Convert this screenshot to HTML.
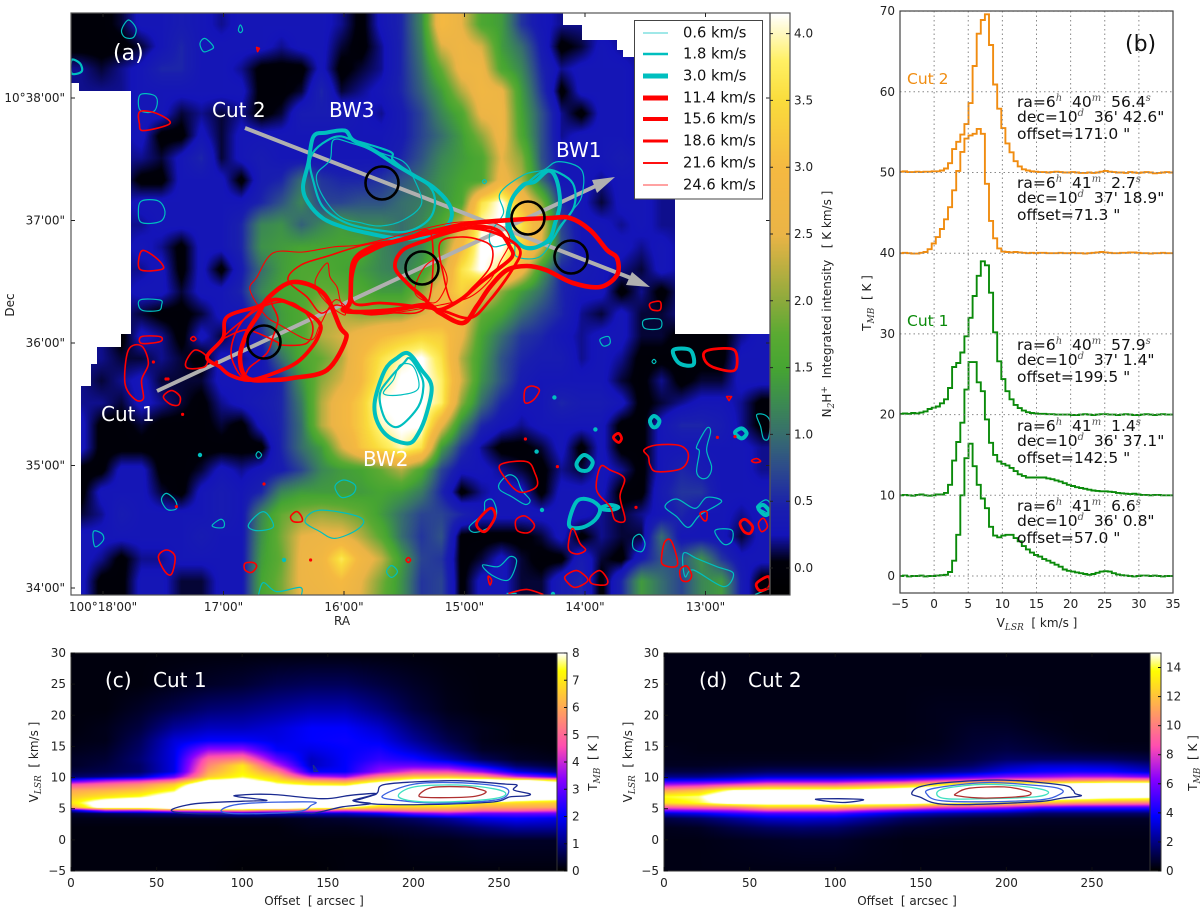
<!DOCTYPE html>
<html lang="en">
<head>
<meta charset="utf-8">
<title>N2H+ integrated intensity map, outflow contours, spectra and PV diagrams</title>
<style>
html,body{margin:0;padding:0;background:#fff;width:1200px;height:912px;overflow:hidden}
#fig{position:relative;width:1200px;height:912px;background:#fff}
canvas{position:absolute;display:block}
svg#ov{position:absolute;left:0;top:0}
text{font-family:"DejaVu Sans","Liberation Sans",sans-serif;fill:#111;white-space:pre}
.ann{fill:#fff;font-size:20px}
.info{font-size:15.5px;fill:#111}
.sup{font-family:"DejaVu Serif","Liberation Serif",serif;font-style:italic;font-size:10px;fill:#555}
.sub{font-family:"DejaVu Serif","Liberation Serif",serif;font-style:italic;font-size:9px;fill:#333}
.lab{font-size:12px;fill:#222}
</style>
</head>
<body>
<div id="fig">
<canvas id="cvA" width="699" height="582" style="left:71px;top:13px"></canvas>
<canvas id="cbA" width="20" height="582" style="left:770px;top:13px"></canvas>
<canvas id="cvC" width="486" height="218" style="left:71px;top:653px"></canvas>
<canvas id="cbC" width="10" height="218" style="left:557px;top:653px"></canvas>
<canvas id="cvD" width="486" height="218" style="left:664px;top:653px"></canvas>
<canvas id="cbD" width="11" height="218" style="left:1150px;top:653px"></canvas>
<svg id="ov" width="1200" height="912" viewBox="0 0 1200 912">
  <defs>
    <clipPath id="clipA"><rect x="71" y="13" width="699" height="582"/></clipPath>
    <clipPath id="clipB"><rect x="900" y="11" width="273" height="582"/></clipPath>
    <clipPath id="clipC"><rect x="71" y="653" width="486" height="218"/></clipPath>
    <clipPath id="clipD"><rect x="664" y="653" width="486" height="218"/></clipPath>
  </defs>
  <path fill="#fff" d="M71 83H79V91H131V334H121V347H97V364H91V386H81V595H71Z M675 198V334H770V13H563V25H582V40H617V50H623V57H675Z"/>
  <g fill="#b0b0b0" stroke="#b0b0b0">
    <line x1="157" y1="391" x2="600" y2="184" stroke-width="4"/>
    <polygon points="615,177 592,180 597,193" stroke="none"/>
    <line x1="245" y1="128" x2="636" y2="280" stroke-width="4"/>
    <polygon points="650,287 632,272 626,285" stroke="none"/>
  </g>
  <g id="gContours" clip-path="url(#clipA)"></g>
  <g id="gBeams"></g>
  <g id="gAxesA"></g>
  <g id="gSpec" clip-path="url(#clipB)"></g>
  <g id="gAxesB"></g>
  <g id="gPvC" clip-path="url(#clipC)"></g>
  <g id="gPvD" clip-path="url(#clipD)"></g>
  <g id="gAxesC"></g>
  <g id="gAxesD"></g>

  <text class="ann" x="113" y="60" style="font-size:22px">(a)</text>
  <text class="ann" x="212" y="117">Cut 2</text>
  <text class="ann" x="329" y="117">BW3</text>
  <text class="ann" x="556" y="157">BW1</text>
  <text class="ann" x="101" y="421">Cut 1</text>
  <text class="ann" x="363" y="466">BW2</text>

  <g id="gLegend">
    <rect x="634.5" y="20.5" width="128" height="178.5" fill="#fff" stroke="#444" stroke-width="1"/>
  </g>

  <text class="lab" x="342" y="625" text-anchor="middle">RA</text>
  <text class="lab" transform="translate(14,305) rotate(-90)" text-anchor="middle">Dec</text>
  <text class="lab" transform="translate(831,304) rotate(-90)" text-anchor="middle">N<tspan class="sub" dy="3">2</tspan><tspan dy="-3">H</tspan><tspan style="font-size:9px" dy="-4">+</tspan><tspan dy="4">  Integrated intensity   [ K km/s ]</tspan></text>

  <text x="1125" y="51" style="font-size:22px">(b)</text>
  <text class="info" x="907" y="84" style="fill:#f08c10">Cut 2</text>
  <text class="info" x="907" y="326" style="fill:#0a8a0a">Cut 1</text>

  <g>
    <text class="info" x="1017" y="107">ra=6<tspan class="sup" dy="-6">h</tspan><tspan dy="6">  40</tspan><tspan class="sup" dy="-6">m</tspan><tspan dy="6">  56.4</tspan><tspan class="sup" dy="-6">s</tspan></text>
    <text class="info" x="1017" y="122">dec=10<tspan class="sup" dy="-6">d</tspan><tspan dy="6">  36' 42.6"</tspan></text>
    <text class="info" x="1017" y="139">offset=171.0 "</text>
  </g>
  <g>
    <text class="info" x="1017" y="188">ra=6<tspan class="sup" dy="-6">h</tspan><tspan dy="6">  41</tspan><tspan class="sup" dy="-6">m</tspan><tspan dy="6">  2.7</tspan><tspan class="sup" dy="-6">s</tspan></text>
    <text class="info" x="1017" y="203">dec=10<tspan class="sup" dy="-6">d</tspan><tspan dy="6">  37' 18.9"</tspan></text>
    <text class="info" x="1017" y="220">offset=71.3 "</text>
  </g>
  <g>
    <text class="info" x="1017" y="350">ra=6<tspan class="sup" dy="-6">h</tspan><tspan dy="6">  40</tspan><tspan class="sup" dy="-6">m</tspan><tspan dy="6">  57.9</tspan><tspan class="sup" dy="-6">s</tspan></text>
    <text class="info" x="1017" y="365">dec=10<tspan class="sup" dy="-6">d</tspan><tspan dy="6">  37' 1.4"</tspan></text>
    <text class="info" x="1017" y="382">offset=199.5 "</text>
  </g>
  <g>
    <text class="info" x="1017" y="431">ra=6<tspan class="sup" dy="-6">h</tspan><tspan dy="6">  41</tspan><tspan class="sup" dy="-6">m</tspan><tspan dy="6">  1.4</tspan><tspan class="sup" dy="-6">s</tspan></text>
    <text class="info" x="1017" y="446">dec=10<tspan class="sup" dy="-6">d</tspan><tspan dy="6">  36' 37.1"</tspan></text>
    <text class="info" x="1017" y="463">offset=142.5 "</text>
  </g>
  <g>
    <text class="info" x="1017" y="511">ra=6<tspan class="sup" dy="-6">h</tspan><tspan dy="6">  41</tspan><tspan class="sup" dy="-6">m</tspan><tspan dy="6">  6.6</tspan><tspan class="sup" dy="-6">s</tspan></text>
    <text class="info" x="1017" y="526">dec=10<tspan class="sup" dy="-6">d</tspan><tspan dy="6">  36' 0.8"</tspan></text>
    <text class="info" x="1017" y="543">offset=57.0 "</text>
  </g>
  <text class="lab" x="1037" y="627" text-anchor="middle">V<tspan class="sub" dy="3">LSR</tspan><tspan dy="-3">  [ km/s ]</tspan></text>
  <text class="lab" transform="translate(871,303) rotate(-90)" text-anchor="middle">T<tspan class="sub" dy="3">MB</tspan><tspan dy="-3">  [ K ]</tspan></text>

  <text class="ann" x="105" y="687">(c)</text>
  <text class="ann" x="153" y="687">Cut 1</text>
  <text class="ann" x="699" y="687">(d)</text>
  <text class="ann" x="748" y="687">Cut 2</text>
  <text class="lab" x="314" y="905" text-anchor="middle">Offset  [ arcsec ]</text>
  <text class="lab" x="907" y="905" text-anchor="middle">Offset  [ arcsec ]</text>
  <text class="lab" transform="translate(38,762) rotate(-90)" text-anchor="middle">V<tspan class="sub" dy="3">LSR</tspan><tspan dy="-3">  [ km/s ]</tspan></text>
  <text class="lab" transform="translate(632,762) rotate(-90)" text-anchor="middle">V<tspan class="sub" dy="3">LSR</tspan><tspan dy="-3">  [ km/s ]</tspan></text>
  <text class="lab" transform="translate(597,763) rotate(-90)" text-anchor="middle">T<tspan class="sub" dy="3">MB</tspan><tspan dy="-3">  [ K ]</tspan></text>
  <text class="lab" transform="translate(1197,763) rotate(-90)" text-anchor="middle">T<tspan class="sub" dy="3">MB</tspan><tspan dy="-3">  [ K ]</tspan></text>
</svg>
</div>
<script>
/* ---------- panel (a) data: integrated intensity, tenths of K km/s, 35 columns x 27 rows ---------- */
const intensityGrid = [
[0,0,1,3,3,4,3,2,3,3,3,3,3,2,0,3,5,12,30,25,16,14,6,3,2,2,2,2,2,2,2,2,2,2,2],
[0,0,0,1,3,5,3,3,3,3,2,3,3,1,0,2,5,11,24,27,24,14,10,4,0,1,3,2,2,2,2,2,2,2,2],
[2,1,2,3,5,5,3,3,2,0,0,0,3,0,1,2,5,10,18,27,27,16,12,5,2,3,3,3,2,2,2,2,2,2,2],
[2,2,2,3,3,3,3,3,3,0,0,1,5,1,2,3,5,9,14,22,28,26,14,6,0,3,3,3,2,2,2,2,2,2,2],
[2,2,2,3,3,1,2,1,2,0,1,4,4,4,3,2,4,7,12,16,26,27,15,8,2,0,3,3,2,2,2,2,2,2,2],
[2,2,2,3,0,0,3,1,3,3,3,3,3,3,3,3,4,7,10,14,20,27,16,8,2,3,3,3,2,2,2,2,2,2,2],
[2,2,2,2,1,3,5,1,3,4,3,3,3,3,3,3,5,8,12,14,16,25,20,8,3,3,3,4,3,2,2,2,2,2,2],
[2,2,2,0,0,3,3,3,0,4,5,10,6,5,5,6,8,10,13,15,16,27,22,10,3,3,2,3,3,2,2,2,2,2,2],
[2,2,2,3,3,3,3,3,3,5,8,12,7,7,8,8,10,11,13,16,36,42,30,20,5,3,1,3,3,2,2,2,2,2,2],
[2,2,2,2,3,3,3,3,5,12,13,9,12,14,12,12,10,12,16,24,40,42,36,26,7,3,3,2,3,2,2,2,2,2,2],
[2,2,2,3,2,0,3,3,5,13,14,15,15,15,16,12,10,12,18,30,42,42,34,24,8,3,3,3,2,3,2,2,2,2,2],
[2,2,2,2,3,0,3,0,4,10,14,16,16,15,14,12,11,14,22,36,42,38,28,14,5,4,3,2,1,3,2,2,2,2,2],
[2,2,2,3,3,1,3,3,5,12,15,16,18,18,16,14,14,20,28,34,28,20,14,10,5,3,3,0,2,0,2,2,2,2,2],
[2,2,2,1,0,0,1,3,3,8,14,16,22,22,20,20,20,24,27,28,18,15,10,7,5,2,1,3,1,1,2,2,2,2,2],
[2,2,0,3,2,0,3,1,3,5,14,16,22,24,27,30,32,34,33,26,15,10,6,5,3,2,3,3,1,1,0,0,0,2,3],
[2,2,1,1,2,1,0,3,2,3,10,16,18,22,30,36,40,42,36,22,14,8,5,4,4,2,3,2,0,0,0,0,0,3,3],
[2,1,2,3,1,1,1,3,3,3,5,13,20,24,30,38,42,42,38,24,13,8,4,3,3,3,3,1,0,2,0,1,1,3,3],
[2,2,1,3,2,1,0,2,3,4,5,11,22,28,33,42,42,42,38,20,10,5,3,3,5,4,4,3,0,1,2,3,3,2,0],
[3,0,0,1,0,0,0,1,0,3,5,10,22,28,33,40,42,42,26,12,5,3,2,3,3,3,3,0,0,3,5,5,4,2,0],
[3,0,0,0,0,0,0,0,0,0,5,10,14,24,32,36,40,36,14,6,2,0,0,1,3,0,3,0,0,3,3,3,3,3,2],
[0,0,3,3,0,0,1,3,2,3,4,7,12,14,15,18,22,16,7,3,3,2,1,0,2,1,3,2,0,3,5,4,3,3,2],
[0,3,3,3,1,0,3,4,3,5,12,14,14,14,14,15,14,11,5,0,2,3,3,0,3,3,3,0,0,4,6,6,3,3,3],
[1,2,4,3,3,3,3,4,3,12,18,20,21,20,18,14,10,7,7,5,3,3,3,3,3,3,2,1,2,3,5,3,3,2,3],
[3,3,3,3,3,3,4,3,3,13,19,25,26,26,22,17,10,6,8,0,0,0,0,1,3,0,2,1,1,10,3,3,3,1,3],
[3,2,0,2,2,3,3,3,3,14,18,26,28,37,28,23,14,7,6,0,1,3,1,0,0,4,1,0,4,8,8,13,6,3,3],
[3,0,0,3,3,1,1,3,3,15,19,26,27,30,25,19,13,6,7,0,3,3,1,1,4,5,0,5,14,10,7,12,14,4,0],
[3,0,0,3,3,1,1,3,3,15,19,25,26,27,24,18,13,6,7,0,3,3,1,1,4,5,0,5,14,10,7,12,14,4,0]
];
const raTickLabels = ['100\u00b018\'00"','17\'00"','16\'00"','15\'00"','14\'00"','13\'00"'];
const raTickMinutes = [0,1,2,3,4,5];
const decTickLabels = ['34\'00"','35\'00"','36\'00"','37\'00"','10\u00b038\'00"'];
const decTickMinutes = [0,1,2,3,4];
const colorbarTicks = [0,0.5,1,1.5,2,2.5,3,3.5,4];

/* contour levels (km/s) and outlines in map-grid cells (col,row) */
const contourLevels = ['0.6','1.8','3.0','11.4','15.6','18.6','21.6','24.6'];
const contours06 = [
[131.2,63.5,129.5,73.5,122.8,81,126,91.8,134.5,101.8,144.5,104.8,154.5,106.5,166.2,103.5,175.3,95.2,171,81.8,166.2,74.3,155,70,140,65],
[214.5,90.2,226.2,81,236.2,78.5,243.7,74.3,255.3,78.5,255.3,91.8,249.5,100.2,242.8,110.2,234.5,121.8,222.8,121.8,221.2,115.2,211.2,116.8,209.5,110.2,216.2,100.2],
[205.7,84.3,206.7,83.3,207.7,84.3,206.7,85.3],
[156.2,190.2,164.5,191,173.7,187.7,171.2,176.8,164.5,176,161.2,183.5],
[28.7,3.5,32.5,7.7,31.2,12.2,27,12.2,25.3,8.5],
[64.5,15.2,67,12.7,71.2,16.8,69.5,18.5,66.2,19.3],
[84.7,6,85.8,8.5,84.7,9.8,83.7,8.5],
[34.5,41,41.2,41,43.2,44.3,41.2,49.3,34.5,48.5],
[35.3,94,43.7,94,47,99.3,44.5,104.3,35.3,104.8,33.7,99.3],
[34.5,143.5,44.5,143.5,45.3,146,43.7,148.8,35.3,148.5],
[92.5,221,93.7,219.3,95.3,221,93.7,222.7],
[45.3,242.7,47.8,240.2,52,243.5,52.8,247.7,48.7,248.5,46.2,246],
[70.7,256,74.5,253.2,76.5,254.3,76.2,257.2,72,257.2],
[88.7,256,96.2,249.3,101.2,256.8,92.8,258.8],
[132,236.8,136.2,233.5,142,236,141.2,240.2,135.3,242.2],
[117,254.3,122.8,248.8,137.8,250.2,146.2,253.5,142.8,258.5,132,262.7,124.5,259.3],
[11.2,259.3,15.3,260.2,16.2,263.5,12,266.8],
[157.8,279.3,160.3,276.3,163.2,279.3,160.3,282.2],
[286.5,153.5,294.5,153.2,294.5,157.7,287,157.7],
[264.5,163.2,268.7,161.8,269.5,165.2,266.2,166.5],
[290.5,174.3,291.5,173.2,292.5,174.3,291.5,175.3],
[342.8,201,347,201,349.5,204.3,348.7,212.7,346.2,212.7,344.8,206.8],
[317.8,207.7,319.8,209.3,317.8,218.5,320.3,226.8,318.7,231.8,315.3,232.7,312.8,229.3,314.2,219.3,312.8,216.8],
[214.2,235.2,218.7,231,222.8,232.7,225.3,238.5,229.5,243.5,227,245.7,220.3,241.8,214.5,238.5],
[297,246.8,302.8,243,312,247.7,317.8,242.2,325.3,244.3,314.5,251,308.7,257.2,302.8,251.8],
[342.8,246.8,347,243.5,349.5,245.2,349.5,250.2,345.3,248.5],
[199.2,256.8,206.2,250.2,207,244.3,210.8,243.5,212.8,250.2,209.5,256.8,202,259.7],
[281.2,262.7,284.5,260.7,287,265.2,285.3,269.3,281.2,267.7],
[322,258.8,330.3,258.5,330.3,264.3,326.2,265.5],
[306.2,270.2,312.8,272.7,322.8,276.8,331.2,280.2,326.2,286.8,311.2,278.5,307,281.8],
[205.8,276,213.7,276.8,219.5,271.8,222.8,274.3,218.7,283.5,210.3,281]
];
const contours18 = [
[119.5,73.5,123.7,66.8,132.8,61.8,141,63.5,159.5,69.3,161,73.5,171,81,179.5,87,182,95,178.7,103.5,167.8,109.3,152.8,108.5,137.8,105,126,97,121,83.5],
[232,81.8,239.5,78.5,248.7,82.7,252,88.5,251.2,97.7,244.5,106.8,240.3,113.5,232.8,116.8,224.5,116,218,108,220,94],
[169.5,172.7,174.5,180.2,176.2,186.8,173.7,196.8,164.5,206.5,158.7,205.2,155.3,198.5,154.5,190.2,158.7,183.5,166.2,175.2],
[0.3,23.5,4.5,25.2,5.3,29.3,0.3,30.2]
];
const contours30 = [
[121.2,61.8,127.8,59.8,137,58.8,141,63.5,151,68.5,161,75,171,81,181,87,188.7,95,190.3,102,186,108.5,176,112,163,112.7,148,110,136,107,126,102.7,118.7,95,116,87,118.7,75],
[232,84.3,238.7,78.8,242.8,83.5,244.5,95.2,242,105.2,238.7,113.5,229.5,117.7,222,113.5,218.7,103.5,220.3,93.5,226,86],
[168.7,170.2,175.3,178.5,180.3,186.8,177.8,200.2,173.7,210.2,168.7,215.2,158.7,211.8,152.8,203.5,152,193.5,157,178.5,162.8,172.7],
[301.2,168.5,309.5,168.5,311.5,175.2,307.8,176.3,303.2,174.3],
[289.5,203.8,291.5,201.5,294.2,203.8,292.8,206.8,290.7,206.8],
[332,209.8,335.3,207.7,337.8,210.2,335.3,212.7],
[252.8,225.2,256.5,221,260.8,224.3,258.7,228.5,254.5,228.5],
[249,256,252.8,244.3,259.5,243.5,264.5,247.7,262,253.5,255.3,257.3],
[264.5,247.7,269.5,246,273.7,247.2,269.5,248.5],
[343.7,247.7,346.2,246,349.2,249.3,347,251]
];
const contours114 = [
[139.5,144.5,141,125,149.5,117.5,161,114.5,178,110,197.5,105.5,219.5,103.5,239.5,102.5,249.5,102.5,259.5,108.5,268,118.5,273,122.5,273,131,264.5,137,251,135,237.5,128.5,228,126.5,218,128.5,209.5,137,203,146.5,196,155,184.5,150,178,146,161,148.5,144.5,149.5,136,148.5],
[84.5,172,88,160,93.5,151,98.5,142.5,111,134.5,126,140,134.5,157,137.5,163,128,178.5,111,182.5,101,183.5,88,182.5]
];
const contours156 = [
[162,127,166,118.5,178,113.5,184.5,111,201,107,213,108.5,219.5,117,220.5,122,213,128.5,204.5,135,194.5,143.5,183,148.5,176,142,168,135],
[68,172,76,162.5,78,152,93,147,104.5,143.5,123,153.5,123.5,162,114.5,173.5,103,179.5,89.5,183.5,79.5,181,74.5,177]
];
const contours186 = [
[141,144.5,142,126,149.5,119.5,164.5,113.5,184.5,109.5,199.5,107.5,214.5,111,224.5,118.5,220.5,128.5,209.5,143.5,199.5,152.5,184.5,148.5,167,146,154.5,145],
[271.2,212.2,273.7,210.2,275.3,212.7,273.7,214.7],
[317,169.3,326.2,167.7,332.3,169.3,332,178.5,322.8,177.7,317.3,174.3],
[334.5,255.2,337,253.2,340.8,256.8,339.5,260.2,336.5,259.3],
[342.8,285.2,348.7,281.8,349.2,286.8,344.5,288.8],
[202.8,255.2,209.5,247.7,212,251.8,207,259.3]
];
const contours216 = [
[184.5,115,194.5,112,204.5,113.5,210.5,117.5,209.5,127,201,137,191,145,186,130],
[108.5,133.5,115,126,128.5,121.5,146.5,116,166.5,113,180,110.5,178,146,160,150,145,150,133,146,125,150,118,142],
[34.5,49.3,42.8,50.2,49.5,55.2,36.2,58.8,34.2,55.2],
[35,119.3,39.5,120.2,45.3,125.2,45.3,128.2,34.5,128.2],
[35.3,161.8,44.5,161.8,44.5,164.3,35.3,165.2],
[28.7,168.5,35.3,166.5,38.7,175.2,35.3,183.5,36.2,192.7,32,193.2,27,185.2],
[59.8,163,61.2,161.8,62.5,163,61.2,164],
[57.5,174.3,62,168.5,67.8,171.8,67,176.8,58.7,177.7],
[46.2,191.8,50.3,188.8,54.5,191.8,53.7,196,49.5,195.5],
[109.8,251.8,112.8,249.3,115.3,251.8,115.3,254.3,111.2,254.3],
[43.7,271.8,47.8,268.5,52,271.8,50.3,280.5,47,279.3],
[87,275.2,91.2,274.8,92.8,276.8,90.3,279.7,87,278.5],
[167.5,273.5,168.7,272.3,169.8,273.5,168.7,274.7],
[92.8,17.2,94.2,17.7,93.3,19.3],
[289.5,145.2,294.5,144.3,294.5,148.5,290.3,148.2],
[227,188.5,230.3,186.5,234.2,188.5,231.2,193.5,227,194.8],
[327.8,191.8,330.3,191.8,329,193.8],
[286.5,218.5,292.8,216,304.5,216.3,308.7,221,305.3,227.7,292.8,229.3,289.5,226,288.7,221.8],
[340.3,223.8,342.8,222.8,344.8,224.2,342,224.8],
[214.5,226,227.8,224.3,232,230.2,233.2,236,229.5,238.8,223.7,239.3,217.8,233.5],
[264.8,226.8,269.5,228.5,276.7,232.7,274.5,241.8,277,253.5,272,253.5,269.5,246.8,262.8,238.5],
[314.5,250.2,317.8,249.3,317.8,253.5,316.2,253.5],
[343.7,255.2,346.2,252.7,348.2,256.8,345.3,259.3],
[222.5,253.5,227,251.5,231.7,256,228.7,259.8,223.2,258.8],
[250.7,257.7,254.5,265.2,257.3,268.5,252.8,270.5,248.7,267.7],
[297,264.3,300.3,264.3,303.2,276,296.2,276,295.3,271.8],
[304.5,278.5,307.8,276.5,310.3,281,308.7,284,305.3,283.5],
[208.7,281.5,210.3,283.5,209.5,286,208.7,283.5],
[247,281.8,252.8,278.8,258.2,282.7,257,285.2,252,287.2,248.7,285.2],
[259.8,281.8,264.5,278.8,268.3,283.5,267,286,260.3,285.2],
[76,162.5,88,158.5,103,164.5,104.5,166,118,165,120.5,155,111,145,98,146,88,152],
[98,143.5,101,147,103.5,153.5,101,162,98,170,89.5,177,85.5,182,80,170,85,155]
];
const contours246 = [
[89.5,138.5,93,132,101,120,116,119.5,131,117,144.5,116,161,112,178,107.5,194.5,104.5,213,105.5,219.5,113.5,214.5,124.5,209.5,133.5,199.5,142,184.5,146,164.5,149.5,149.5,151,139.5,148.5,132,143.5,124.5,156,119.5,163.5,104.5,156,97,151],
[183,123.5,188,132,186,140,181,145,172,140,176,128],
[128,125,129.5,132,133,137,134.5,143.5,137,151,128,145,122,135]
];
/* open contours that run off the bottom edge */
const openContours06 = [
[93.7,291,96.2,284.8,102.8,289.3,114.5,287.2,115.3,291],
[342,290.8,349.5,287.7],
[217.8,290.2,222.8,290.2]
];
const openContours216 = [
[218.7,290.2,227.8,288.2,236.2,290.8]
];
/* isolated single-channel peaks */
const cyanPeaks = [241.7,192.2, 262.2,208.2, 232.8,219.3, 235.5,248.5, 64.5,221, 106.5,273.5, 241,290.5];
const redPeaks = [41.2,174.5, 47.5,183, 48.5,183, 72.8,174.5, 52.7,246.8, 55.8,200.7, 96.5,235.5, 119.8,273.5, 323.2,212.2, 332,211.8, 282.5,247.2, 227.2,213, 243.2,226.8];
/* positions of the five spectra in map-grid cells */
const beamCols = [155.5,228.5,250,175.5,96.5];
const beamRows = [85,102.5,122,127.5,164.5];

/* ---------- panel (b) data: TMB per 0.6 km/s channel ---------- */
const specVelStart = -4.86;
const specVelStep = 0.6;
const specOffsets = [50,40,20,10,0];
const specCut2A = [.1,.15,.05,.05,.1,.05,.1,.1,.15,.15, .25,.5,1.15,2.9,3.8,4.7,6,8.6,13.2,17.2, 18.9,19.6,15.8,10.9,7.9,5.5,3.6,2.5,1.4,.75, .4,.25,.15,.1,.05,.05,0,.05,.1,.05, 0,0,.05,0,-.05,-.05,0,-.05,0,.1, .2,.1,.05,0,0,-.05,.05,0,-.05,0, .05,0,-.1,-.05,0,.05,0];
const specCut2B = [0,.05,0,-.05,-.05,.05,.15,.5,1.2,2, 3,4.2,5.7,7.8,10.2,12.55,14.2,14.6,14.8,15.4, 14.8,8.6,4,1.85,.6,.2,.15,.1,.15,.1, .05,0,.05,0,.05,.05,0,0,0,.05, 0,0,.05,0,0,-.05,0,.05,.1,.15, .1,.05,0,0,.05,.05,.1,.1,.05,0, 0,-.05,0,0,.05,0,0];
const specCut1A = [.1,.15,.1,.2,.15,.25,.4,.7,.85,1, 1.4,1.9,3.3,5.9,6.4,7.7,9.7,12,14.7,17.2, 19,18.5,15.1,10.2,6.6,4.4,2.9,1.9,1.2,.8, .5,.3,.2,.15,.1,.1,.05,.05,0,0, 0,0,-.05,-.05,0,.05,0,-.05,0,.05, .05,0,0,-.05,0,.05,0,-.05,-.05,0, .05,0,-.05,0,.05,0,0];
const specCut1B = [0,.05,0,-.05,.05,.1,0,-.05,0,.1, .1,.3,1.3,4.3,6.6,9,13.1,16.5,16.5,14, 12.9,9.4,6.5,5,4.2,3.9,3.7,3.4,3,2.6, 2.4,2.2,2.2,2.2,2.2,2.2,2.1,2,1.85,1.7, 1.5,1.3,1.15,1,.9,.8,.7,.6,.55,.5, .5,.45,.4,.3,.25,.2,.15,.2,.1,.05, .05,0,.05,.05,0,0,0];
const specCut1C = [0,.05,-.05,0,0,.05,-.05,0,0,.05, .1,.15,.5,1.9,5.1,10,14.6,16.4,13.6,11.3, 9.6,8.4,6.1,5,4.8,5,5.1,5.1,4.7,4.3, 3.7,3.3,2.9,2.6,2.4,2.1,1.9,1.65,1.4,1.15, .8,.65,.55,.45,.35,.25,.15,.25,.4,.55, .6,.55,.35,.2,.1,.05,0,-.05,0,.05, .05,0,.05,0,-.05,0,0];
const specSeries = [specCut2A,specCut2B,specCut1A,specCut1B,specCut1C];
const specXTicks = [-5,0,5,10,15,20,25,30,35];
const specYTicks = [0,10,20,30,40,50,60,70];

/* ---------- panels (c),(d) data: TMB (K) on offset x velocity grid ---------- */
const pvOffsets = [0,20,40,60,80,100,120,140,160,180,200,220,240,260,285];
const pvVelocities = [-5,0,2,3.5,4.3,4.8,5.3,6,7,8,9,9.6,10.2,11,12,13,14.5,16,18,21,25,30];
const pvCut1 = [
[.1,.1,.1,.1,.1,.05,.05,.05,.1,.1,.1,.1,.1,.1,.1],
[.1,.1,.1,.1,.1,.1,.1,.1,.1,.1,.2,.2,.3,.3,.3],
[.1,.1,.1,.1,.1,.1,.1,.2,.2,.3,.4,.6,.9,1.2,1.2],
[.2,.2,.2,.2,.2,.2,.2,.3,.4,.5,.8,1.2,1.8,2,1.8],
[.4,.6,.8,1,1.2,1.5,1.5,1.5,1.5,2,3,3.5,3,3,3],
[1.5,4,4,5,5.5,6,5,5,4.5,5,5.5,5.5,5,5,4.5],
[6,9,9,10,12,11,10,9,8,6.5,6.5,6.5,6,6,6],
[7,9,10,11,13,13,12,11,10,8.5,8.5,8.5,7,6.8,6.5],
[6.5,7,7.5,9,14,14,13,12,11,12,14,16,14,10,9],
[6,6.2,6.5,7.5,12,13,11,10,10,11,15,18,15,11,9.5],
[4.5,5,5.5,6.5,9.5,11,8,7.2,7,9,11,12,12,10,9],
[2.5,3.5,4,5,8,8.5,7,6,5.5,7,8.5,9,9,8.5,7],
[.8,1,1.5,3,6.5,7.5,6.5,4,3.5,5.5,6.5,6.5,6,4,2.5],
[.5,.6,.8,1.8,6,7.2,5.5,2,2,3.5,4.5,4.5,3.5,1.8,1],
[.3,.5,.8,1.8,5.5,7,4,1.5,2,3,3,2.8,1.8,.8,.4],
[.3,.4,.9,1.8,5,5.5,3,1.5,2,2.5,2.2,1.5,.7,.3,.2],
[.2,.3,.8,1.8,3.5,3.5,2,1.8,2,2.2,1.6,.9,.3,.2,.1],
[.15,.2,.7,1.7,2,2,1.8,2,2.1,1.9,1.2,.6,.2,.1,.1],
[.1,.2,.5,1.2,1.5,1.5,1.7,2,2,1.6,.9,.4,.2,.1,.1],
[.1,.1,.3,.6,.9,1,1.2,1.4,1.4,1,.5,.2,.1,.1,.1],
[.1,.1,.1,.2,.3,.4,.6,.7,.7,.5,.3,.15,.1,.1,.1],
[.1,.1,.1,.1,.1,.1,.1,.1,.1,.1,.1,.1,.1,.1,.1]
];
const pvCut2 = [
[.3,.3,.3,.3,.3,.3,.3,.3,.3,.3,.3,.3,.3,.3,.3],
[.3,.3,.4,.5,.6,.6,.4,.3,.3,.3,.3,.3,.3,.3,.3],
[.4,.5,1,1.4,1.6,1.5,1,.6,.5,.4,.4,.4,.4,.4,.4],
[1,1.4,2.2,3,3.2,3,2.2,1.4,1,.8,.7,.6,.6,.6,.6],
[3,3.5,4.5,5,5,5,4,3,2.5,2.2,2,1.5,1.5,1.5,1.5],
[6,6.5,7,8.5,8.5,8.5,7,6,5,4.5,4,3,3,3,3],
[9,9.5,10,12,12,12,11,10,8.5,8,7,5.5,5,5,5],
[13,14,16,16,16,16,16,16,15,14.5,13.5,12,11,10.5,10],
[14,14.5,18,20,20,20,20,20,20,20,20,18,17,16,15.5],
[11,12,15,15.5,15.5,15.5,16,17,18,20,20,20,20,20,20],
[6.5,7,8,9,9,9,10,11,13,14,15,15.5,16,17,17],
[3.8,4,4.5,5.5,5.5,5.5,6,6.5,8,9,10,10,10.5,11,11],
[2,2,2.5,3,3,3,3.2,3.5,4,5,6,6.5,7,7,6],
[1,1,1.2,1.5,1.5,1.5,1.5,1.6,2,2.5,3.5,4,4.2,4,3],
[.5,.5,.6,.7,.7,.7,.7,.8,1,1.5,2.5,3,3,2.8,2],
[.4,.4,.4,.4,.4,.4,.4,.5,.7,1,1.5,1.5,1.5,1.4,1],
[.4,.3,.3,.3,.3,.3,.3,.4,.5,.8,1,.8,.6,.5,.4],
[.3,.3,.3,.3,.3,.3,.3,.3,.4,.7,.8,.6,.4,.3,.3],
[.3,.3,.3,.3,.3,.3,.3,.3,.4,.6,.6,.4,.3,.3,.3],
[.3,.3,.3,.3,.3,.3,.3,.3,.4,.4,.4,.3,.3,.3,.3],
[.3,.3,.3,.3,.3,.3,.3,.3,.3,.3,.3,.3,.3,.3,.3],
[.3,.3,.3,.3,.3,.3,.3,.3,.3,.3,.3,.3,.3,.3,.3]
];
const pvXTicks = [0,50,100,150,200,250];
const pvYTicks = [-5,0,5,10,15,20,25,30];
const pvCbTicksC = [0,1,2,3,4,5,6,7,8];
const pvCbTicksD = [0,2,4,6,8,10,12,14];
/* PV contours as (offset arcsec, velocity km/s) */
const pvContoursCut1 = [
[178.4,7.43,181.9,8.8,200.5,9.3,226,9.5,254,8.95,260.5,8.8,258.6,8,268,7.4,265.6,7.05,256.3,6.9,247,6.1,214.4,5.7,181.9,5.7,165.6,6.2,168,6.6],
[58.6,4.73,72.6,5.8,100.5,6.2,114.4,6.35,98,6.9,97,7.16,116.7,7.3,147,6.6,163.3,7.16,178.4,7.43,170,6.6,165.6,6.2,175,5.8,158.6,5.3,142.3,4.3,133,4.3,74.9,4.2],
[141.5,12,142,11,144,11],
[181.9,7.05,200.5,8.95,228.5,9.16,251.8,8.5,255.3,7.4,247,6.35,214.4,5.9,191.2,6.35],
[87.7,4.73,100.5,5.8,140,6.1,140,5.5,131.9,4.5,98,4.2],
[191.2,7.05,200.5,8.5,226,8.8,247,8.2,254,7.4,247,6.6,221.4,6.1,200.5,6.2],
[203.3,7.16,211,8.4,230.7,8.5,238.8,8.1,242.3,7.6,233,6.9,208.8,6.8]
];
const pvContoursCut2 = [
[144.7,7.43,149.2,8.5,164.9,9.2,198.7,9.6,232.4,8.8,238.7,8,240.2,7.43,243.6,7.05,232.4,6.7,216.7,6.1,165,5.7,149.2,6.9],
[88.5,6.5,102,6.6,116.6,6.45,104.3,6],
[153.3,7.43,158.2,8.3,187.5,9.2,214.4,8.8,230.2,8.3,232,7.43,216.7,6.35,165,6.2],
[159.3,7.43,165,8.3,187.5,8.9,212.1,8.5,224.5,7.7,216.7,6.9,187.5,6.6,165,6.6],
[170.6,7.43,178.4,8.3,198.7,8.5,209.9,8,214.4,7.5,209.9,7,187.5,6.7,171.7,7.05]
];
/* which colour index each PV contour uses: 0 navy, 1 blue, 2 teal, 3 brown */
const pvContourLevelsCut1 = [0,0,0,1,1,2,3];
const pvContourLevelsCut2 = [0,0,1,2,3];

/* ---------- axis functions ---------- */
const mapX = c => 71 + 2*c;
const mapY = r => 13 + 2*r;
const raX = m => 103 + 120.5*m;
const decY = m => 588 - 122.5*m;
const cbAY = v => 568 - 133.6*v;
const specX = v => 900 + (v+5)*6.825;
const specY = t => 576 - 8.07*t;
const pvY = v => 653 + (30-v)*218/35;
const pvXc = o => 71 + 1.712*o;
const pvXd = o => 664 + 1.712*o;

/* ---------- style lookups ---------- */
const levelWidth = {'0.6':1.2,'1.8':2.2,'3.0':4,'11.4':4.6,'15.6':3.8,'18.6':2.8,'21.6':1.6,'24.6':1.1};
const levelColor = {'0.6':'#00bfbf','1.8':'#00bfbf','3.0':'#00bfbf','11.4':'#ff0000','15.6':'#ff0000','18.6':'#ff0000','21.6':'#ff0000','24.6':'#ff0000'};
const legendColor = {'0.6':'#40d0d0','1.8':'#00bfbf','3.0':'#00bfbf','11.4':'#ff0000','15.6':'#ff0000','18.6':'#ff0000','21.6':'#ff1010','24.6':'#ff6a6a'};
const legendWidth = {'0.6':1,'1.8':2.5,'3.0':5,'11.4':5,'15.6':4,'18.6':3,'21.6':2,'24.6':1.3};
const pvLineColors = ['#1a2a90','#3a60e0','#40e0c0','#b03030'];

const NS = 'http://www.w3.org/2000/svg';
function mk(tag, attrs, parent){
  const e = document.createElementNS(NS, tag);
  for (const k in attrs) e.setAttribute(k, attrs[k]);
  parent.appendChild(e);
  return e;
}
function txt(str, x, y, anchor, size, parent){
  const e = mk('text', {x:x, y:y, 'text-anchor':anchor, 'dominant-baseline':'central', style:'font-size:'+size+'px;fill:#222'}, parent);
  e.textContent = str;
  return e;
}
function splinePath(pts, closed){
  const n = pts.length;
  if (n < 4 && closed) return 'M' + pts.map(p=>p.join(' ')).join('L') + 'Z';
  if (n < 3) return 'M' + pts.map(p=>p.join(' ')).join('L');
  const g = i => closed ? pts[(i+n)%n] : pts[Math.max(0,Math.min(n-1,i))];
  let d = 'M' + pts[0][0].toFixed(1) + ' ' + pts[0][1].toFixed(1);
  const m = closed ? n : n-1;
  for (let i=0;i<m;i++){
    const p0=g(i-1),p1=g(i),p2=g(i+1),p3=g(i+2);
    const c1=[p1[0]+(p2[0]-p0[0])/6,p1[1]+(p2[1]-p0[1])/6];
    const c2=[p2[0]-(p3[0]-p1[0])/6,p2[1]-(p3[1]-p1[1])/6];
    d += 'C'+c1[0].toFixed(1)+' '+c1[1].toFixed(1)+' '+c2[0].toFixed(1)+' '+c2[1].toFixed(1)+' '+p2[0].toFixed(1)+' '+p2[1].toFixed(1);
  }
  return d + (closed?'Z':'');
}
function toPts(flat, fx, fy){
  const out=[];
  for(let i=0;i+1<flat.length;i+=2) out.push([fx(flat[i]),fy(flat[i+1])]);
  return out;
}

/* ---------- colour maps ---------- */
const mapStops = [[-0.2,0,0,0],[0.05,0,0,10],[0.25,20,20,185],[0.45,25,30,175],[0.75,45,75,140],[1.0,55,110,110],[1.25,60,140,80],[1.5,70,165,50],[1.75,90,170,50],[2.0,140,170,60],[2.5,235,180,70],[3.0,245,185,65],[3.5,250,220,60],[3.8,255,240,100],[4.15,255,255,255]];
function mapColor(v){
  if (v<=mapStops[0][0]) return [0,0,0];
  for(let i=1;i<mapStops.length;i++){
    if(v<=mapStops[i][0]){
      const a=mapStops[i-1],b=mapStops[i],t=(v-a[0])/(b[0]-a[0]);
      return [a[1]+(b[1]-a[1])*t,a[2]+(b[2]-a[2])*t,a[3]+(b[3]-a[3])*t];
    }
  }
  return [255,255,255];
}
function gnuplot2(x){
  x=Math.max(0,Math.min(1,x));
  const cl=u=>Math.max(0,Math.min(1,u))*255;
  const b = x<0.25 ? 4*x : (x<0.92 ? -2*x+1.84 : x/0.08-11.5);
  return [cl(x/0.32-0.78125),cl(2*x-0.84),cl(b)];
}
function paintRow(ctx,w,h,fn){
  const img=ctx.createImageData(w,h);
  for(let y=0;y<h;y++)for(let x=0;x<w;x++){
    const c=fn(x,y),i=(y*w+x)*4;
    img.data[i]=c[0];img.data[i+1]=c[1];img.data[i+2]=c[2];img.data[i+3]=255;
  }
  ctx.putImageData(img,0,0);
}

/* ---------- paint heatmap (a) ---------- */
(function(){
  const cv=document.getElementById('cvA'),ctx=cv.getContext('2d');
  const R=intensityGrid.length,C=intensityGrid[0].length;
  const val=(r,c)=>{const row=intensityGrid[Math.max(0,Math.min(R-1,r))];return row[Math.max(0,Math.min(C-1,c))]/10;};
  paintRow(ctx,cv.width,cv.height,(x,y)=>{
    const fx=(x-10)/20,fy=(y-11)/22.27;
    const c0=Math.floor(fx),r0=Math.floor(fy);
    const tx=fx-c0,ty=fy-r0;
    const v=(val(r0,c0)*(1-tx)+val(r0,c0+1)*tx)*(1-ty)+(val(r0+1,c0)*(1-tx)+val(r0+1,c0+1)*tx)*ty;
    return mapColor(v);
  });
  const cb=document.getElementById('cbA'),cc=cb.getContext('2d');
  paintRow(cc,cb.width,cb.height,(x,y)=>mapColor((568-(y+13))/133.6));
})();

/* ---------- paint PV heatmaps ---------- */
function locate(arr,v){
  let i=0;
  while(i<arr.length-2 && v>arr[i+1]) i++;
  const t=Math.max(0,Math.min(1,(v-arr[i])/(arr[i+1]-arr[i])));
  return [i,t];
}
function paintPV(id,cbId,grid,vmax){
  const cv=document.getElementById(id),ctx=cv.getContext('2d');
  paintRow(ctx,cv.width,cv.height,(x,y)=>{
    const off=x/1.712,vel=30-y*35/218;
    const [ci,tx]=locate(pvOffsets,off);
    const [ri,ty]=locate(pvVelocities,vel);
    const a=grid[ri],b=grid[ri+1];
    const T=(a[ci]*(1-tx)+a[ci+1]*tx)*(1-ty)+(b[ci]*(1-tx)+b[ci+1]*tx)*ty;
    return gnuplot2(T/vmax);
  });
  const cb=document.getElementById(cbId),cc=cb.getContext('2d');
  paintRow(cc,cb.width,cb.height,(x,y)=>gnuplot2(1-y/217));
}
paintPV('cvC','cbC',pvCut1,8);
paintPV('cvD','cbD',pvCut2,15);

/* ---------- panel (a) contours ---------- */
const gC=document.getElementById('gContours');
const contourSets=[contours06,contours18,contours30,contours114,contours156,contours186,contours216,contours246];
const openSets=[openContours06,[],[],[],[],[],openContours216,[]];
contourLevels.forEach((lev,i)=>{
  contourSets[i].forEach(flat=>{
    const p=mk('path',{d:splinePath(toPts(flat,mapX,mapY),true),fill:'none',stroke:levelColor[lev],'stroke-width':levelWidth[lev],'stroke-linejoin':'round'},gC);
    
    
  });
  openSets[i].forEach(flat=>{
    const p=mk('path',{d:splinePath(toPts(flat,mapX,mapY),false),fill:'none',stroke:levelColor[lev],'stroke-width':levelWidth[lev]},gC);
    
    
  });
});
for(let i=0;i<cyanPeaks.length;i+=2){
  const d=mk('circle',{cx:mapX(cyanPeaks[i]),cy:mapY(cyanPeaks[i+1]),r:2.2,fill:'#00bfbf'},gC);
  
  
}
for(let i=0;i<redPeaks.length;i+=2){
  const d=mk('circle',{cx:mapX(redPeaks[i]),cy:mapY(redPeaks[i+1]),r:1.6,fill:'#ff0000'},gC);
  
  
}
const gB=document.getElementById('gBeams');
beamCols.forEach((c,i)=>{
  const e=mk('circle',{cx:mapX(c),cy:mapY(beamRows[i]),r:16.5,fill:'none',stroke:'#000','stroke-width':2.6},gB);
  
  
});

/* ---------- panel (a) axes ---------- */
const gA=document.getElementById('gAxesA');
const frameA=mk('rect',{x:71,y:13,width:699,height:582,fill:'none',stroke:'#555','stroke-width':1.2},gA);


raTickMinutes.forEach((m,i)=>{
  const x=raX(m);
  const t=mk('path',{d:'M'+x+' 595v-4M'+x+' 13v4',stroke:'#222','stroke-width':1},gA);
  
  
  const l=txt(raTickLabels[i],x,607,'middle',12,gA);
  
  
});
decTickMinutes.forEach((m,i)=>{
  const y=decY(m);
  const t=mk('path',{d:'M71 '+y+'h4M770 '+y+'h-4',stroke:'#222','stroke-width':1},gA);
  
  
  const l=txt(decTickLabels[i],65,y,'end',12,gA);
  
  
});
const frameCb=mk('rect',{x:770,y:13,width:20,height:582,fill:'none',stroke:'#555','stroke-width':1.2},gA);


colorbarTicks.forEach(v=>{
  const y=cbAY(v);
  const t=mk('path',{d:'M790 '+y+'h-4M770 '+y+'h3',stroke:'#222','stroke-width':1},gA);
  
  
  const l=txt(v.toFixed(1),794,y,'start',12,gA);
  
  
});

/* ---------- legend ---------- */
const gL=document.getElementById('gLegend');
contourLevels.forEach((lev,i)=>{
  const y=[33,54,76,98,119,141,163,185][i];
  const ln=mk('line',{x1:643,x2:668,y1:y,y2:y,stroke:legendColor[lev],'stroke-width':legendWidth[lev]},gL);
  
  
  const t=txt(lev+' km/s',683,y,'start',14.7,gL);
  t.style.fill='#111';
  
  
});

/* ---------- panel (b) ---------- */
const gAB=document.getElementById('gAxesB'),gS=document.getElementById('gSpec');
specXTicks.forEach(v=>{
  const x=specX(v);
  const g=mk('line',{x1:x,x2:x,y1:11,y2:593,stroke:'#888','stroke-width':1,'stroke-dasharray':'1.5 3'},gAB);
  
  
  const l=txt(String(v).replace('-','\u2212'),x,604,'middle',12,gAB);
  
  
});
specYTicks.forEach(v=>{
  const y=specY(v);
  const g=mk('line',{x1:900,x2:1173,y1:y,y2:y,stroke:'#888','stroke-width':1,'stroke-dasharray':'1.5 3'},gAB);
  
  
  const l=txt(String(v),895,y,'end',12,gAB);
  
  
});
const frameB=mk('rect',{x:900,y:11,width:273,height:582,fill:'none',stroke:'#444','stroke-width':1.2},gAB);


const specColor=['#f08c10','#f08c10','#0a8a0a','#0a8a0a','#0a8a0a'];
const specNames=['spectrum-cut-2-offset-171','spectrum-cut-2-offset-71','spectrum-cut-1-offset-199','spectrum-cut-1-offset-142','spectrum-cut-1-offset-57'];
specSeries.forEach((vals,s)=>{
  let d='';
  vals.forEach((t,k)=>{
    const v=specVelStart+specVelStep*k;
    const x0=specX(v-specVelStep/2),x1=specX(v+specVelStep/2),y=specY(t+specOffsets[s]);
    d+=(k===0?'M':'L')+x0.toFixed(1)+' '+y.toFixed(1)+'L'+x1.toFixed(1)+' '+y.toFixed(1);
  });
  const p=mk('path',{d:d,fill:'none',stroke:specColor[s],'stroke-width':1.9,'stroke-linejoin':'miter'},gS);
  
  
});

/* ---------- panels (c),(d) axes and contours ---------- */
function drawPV(gAxId,gPvId,xf,left,cbW,cbTicks,vmax,contours,levels){
  const gAx=document.getElementById(gAxId),gP=document.getElementById(gPvId);
  contours.forEach((flat,i)=>{
    const p=mk('path',{d:splinePath(toPts(flat,xf,pvY),true),fill:'none',stroke:pvLineColors[levels[i]],'stroke-width':1.3},gP);
    
    
  });
  const fr=mk('rect',{x:left,y:653,width:486,height:218,fill:'none',stroke:'#333','stroke-width':1},gAx);
  
  
  pvXTicks.forEach(o=>{
    const x=xf(o);
    const t=mk('path',{d:'M'+x+' 871v-4M'+x+' 653v4',stroke:'#111','stroke-width':1},gAx);
    
    
    const l=txt(String(o),x,883,'middle',12,gAx);
    
    
  });
  pvYTicks.forEach(v=>{
    const y=pvY(v);
    const t=mk('path',{d:'M'+left+' '+y+'h4',stroke:'#111','stroke-width':1},gAx);
    
    
    const l=txt(String(v).replace('-','\u2212'),left-5,y,'end',12,gAx);
    
    
  });
  const cbL=left+486;
  const cf=mk('rect',{x:cbL,y:653,width:cbW,height:218,fill:'none',stroke:'#333','stroke-width':1},gAx);
  
  
  cbTicks.forEach(v=>{
    const y=871-218*v/vmax;
    const t=mk('path',{d:'M'+(cbL+cbW)+' '+y+'h-3',stroke:'#111','stroke-width':1},gAx);
    
    
    const l=txt(String(v),cbL+cbW+5,y,'start',12,gAx);
    
    
  });
}
drawPV('gAxesC','gPvC',pvXc,71,10,pvCbTicksC,8,pvContoursCut1,pvContourLevelsCut1);
drawPV('gAxesD','gPvD',pvXd,664,11,pvCbTicksD,15,pvContoursCut2,pvContourLevelsCut2);
</script>
</body>
</html>
